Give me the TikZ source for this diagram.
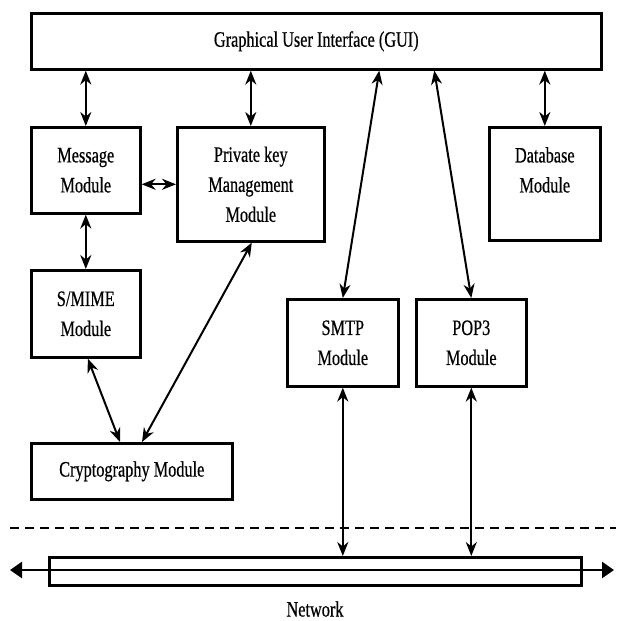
\documentclass[tikz,border=0pt]{standalone}
\usepackage{fontspec}
\setmainfont{Liberation Serif}[FakeStretch=0.74, FakeBold=0.5]
\usetikzlibrary{arrows.meta}
\tikzset{
  box/.style={draw, line width=2.6pt, rectangle, inner sep=0pt, anchor=north west, align=center,
    font=\fontsize{22}{30}\selectfont},
  dbl/.style={line width=2pt, {Stealth[length=14pt,width=11pt,inset=4.5pt]}-{Stealth[length=14pt,width=11pt,inset=4.5pt]}},
  netarrow/.style={line width=2.6pt, {Triangle[length=12pt,width=16pt]}-{Triangle[length=12pt,width=16pt]}},
  sep/.style={line width=2.4pt, dash pattern=on 9pt off 6pt}
}
\begin{document}
\begin{tikzpicture}[x=1pt, y=-1pt]
\useasboundingbox (0,0) rectangle (616,621);
\node[box, minimum width=570pt, minimum height=56pt] (gui) at (30,12) {Graphical User Interface (GUI)};
\node[box, minimum width=109pt, minimum height=86pt] (msg) at (30,126) {Message\\Module};
\node[box, minimum width=147pt, minimum height=114pt] (pk) at (176,126) {Private key\\Management\\Module};
\node[box, minimum width=111pt, minimum height=113pt,
  label={[name=dbt, anchor=north, align=center, inner sep=0pt, yshift=-21pt, font=\fontsize{22}{30}\selectfont]north:Database\\Module}] (db) at (488,126) {};
\node[box, minimum width=109pt, minimum height=87pt] (smime) at (30,269) {S/MIME\\Module};
\node[box, minimum width=111pt, minimum height=87pt] (smtp) at (286,298) {SMTP\\Module};
\node[box, minimum width=110pt, minimum height=87pt] (pop) at (415,298) {POP3\\Module};
\node[box, minimum width=201pt, minimum height=56pt] (crypto) at (30,442) {Cryptography Module};
\node[draw, line width=2.6pt, rectangle, inner sep=0pt, anchor=north west, minimum width=532pt, minimum height=28pt] (net) at (48,556) {};
\node[font=\fontsize{22}{30}\selectfont, inner sep=0pt] (nettext) at (315,609) {Network};
\coordinate (netL) at (10,570);
\coordinate (netR) at (614,570);
\coordinate (dashL) at (10,528);
\coordinate (dashR) at (616,528);
% connectors
\draw[dbl] (msg.north) -- (msg.north |- gui.south);
\draw[dbl] (pk.north) -- (pk.north |- gui.south);
\draw[dbl] (db.north) -- (db.north |- gui.south);
\draw[dbl] ([yshift=-14pt]msg.east) -- ([yshift=-14pt]msg.east -| pk.west);
\draw[dbl] (msg.south) -- (smime.north);
\draw[dbl] ([xshift=2pt]smime.south) -- ([xshift=90pt]crypto.north west);
\draw[dbl] ([xshift=1pt]pk.south) -- ([xshift=112pt]crypto.north west);
\draw[dbl] ([xshift=63pt]gui.south) -- (smtp.north);
\draw[dbl] ([xshift=118pt]gui.south) -- (pop.north);
\draw[dbl] (smtp.south) -- (smtp.south |- net.north);
\draw[dbl] (pop.south) -- (pop.south |- net.north);
\draw[sep] (dashL) -- (dashR);
\draw[netarrow] (netL) -- (netR);
\end{tikzpicture}
\end{document}
